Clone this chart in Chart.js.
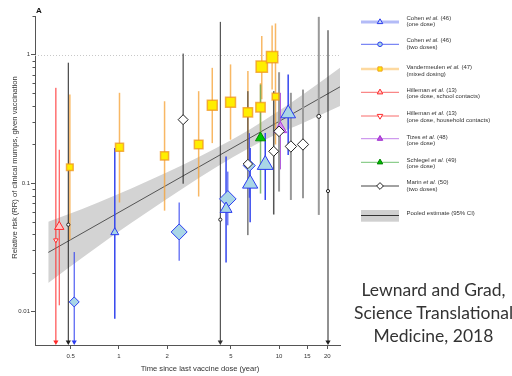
<!DOCTYPE html>
<html><head><meta charset="utf-8">
<script src="https://cdn.jsdelivr.net/npm/chart.js@4.4.1/dist/chart.umd.min.js"></script>
<style>
html,body{margin:0;padding:0;background:#fff;overflow:hidden;width:512px;height:376px;}
#wrap{position:absolute;left:0;top:0;width:512px;height:376px;}
#cite{position:absolute;left:345px;width:177px;top:277.6px;text-align:center;font-family:Lato,sans-serif;font-size:17.5px;line-height:23.3px;color:#333;white-space:nowrap;}
</style></head><body>
<div id="wrap"><canvas id="c" width="512" height="376"></canvas></div>
<div id="cite">Lewnard and Grad,<br>Science Translational<br>Medicine, 2018</div>
<script>
// ---------- data ----------
const xTickValues = [0.5, 1, 2, 5, 10, 15, 20];
const xTickLabels = ['0.5', '1', '2', '5', '10', '15', '20'];
const yTickValues = [0.01, 0.1, 1];
const yTickLabels = ['0.01', '0.1', '1'];
const yMinorTicks = [0.02,0.03,0.04,0.05,0.06,0.07,0.08,0.09,0.2,0.3,0.4,0.5,0.6,0.7,0.8,0.9,2];

// Cohen et al. (46), one dose
const cohen1X  = [0.944, 4.67, 6.6, 8.2, 11.4];
const cohen1RR = [0.0414, 0.063, 0.099, 0.139, 0.348];
const cohen1Lo = [0.0088, 0.0241, 0.0496, 0.074, 0.166];
const cohen1Hi = [0.188, 0.161, 0.188, 0.246, 0.70];
const cohen1Radius = [4.6, 6.9, 8.8, 9.2, 8.5];

// Cohen et al. (46), two doses
const cohen2X  = [0.527, 2.38, 4.79, 6.52];
const cohen2RR = [0.0119, 0.0417, 0.0754, 0.137];
const cohen2Lo = [null, 0.0249, 0.047, 0.077];
const cohen2Hi = [0.0291, 0.0707, 0.123, 0.245];
const cohen2Radius = [5, 8, 8.3, 6];

// Vandermeulen et al. (47), mixed dosing
const vdmX  = [0.495, 1.01, 1.93, 3.15, 3.83, 4.98, 6.39, 7.66, 7.8, 9.05, 9.5];
const vdmRR = [0.133, 0.19, 0.163, 0.2, 0.404, 0.426, 0.356, 0.39, 0.806, 0.957, 0.472];
const vdmLo = [0.0362, 0.0707, 0.0611, 0.0787, 0.205, 0.218, 0.13, 0.25, 0.45, 0.535, 0.2];
const vdmHi = [0.49, 0.505, 0.434, 0.52, 0.79, 0.84, 0.745, 0.6, 1.4, 1.69, 1.75];
const vdmRadius = [4.7, 5.7, 5.7, 6.1, 7, 7, 6.6, 6.6, 8, 8, 4.7];

// Hilleman et al. (13), one dose, school contacts
const hillSchoolX  = [0.425];
const hillSchoolRR = [0.0458];
const hillSchoolLo = [0.0112];
const hillSchoolHi = [0.182];

// Hilleman et al. (13), one dose, household contacts
const hillHouseX  = [0.405];
const hillHouseRR = [0.036];
const hillHouseLo = [null];
const hillHouseHi = [0.552];

// Tizes et al. (48), one dose
const tizesX  = [10.2];
const tizesRR = [0.264];
const tizesLo = [0.128];
const tizesHi = [0.505];

// Schlegel et al. (49), one dose
const schlegelX  = [7.66];
const schlegelRR = [0.225];
const schlegelLo = [0.083];
const schlegelHi = [0.586];

// Marin et al. (50), two doses
const marinX  = [0.484, 2.52, 4.3, 6.39, 9.26, 10.0, 11.85, 14.1, 17.7, 20.2];
const marinRR = [0.0475, 0.312, 0.052, 0.141, 0.177, 0.253, 0.193, 0.2, 0.331, 0.0868];
const marinLo = [null, 0.099, null, 0.0394, 0.057, 0.086, 0.074, 0.0763, 0.0566, null];
const marinHi = [0.866, 1.02, 1.8, 0.52, 0.52, 0.73, 0.505, 0.535, 1.97, 1.55];
const marinRadius = [1.6, 5, 1.6, 4.7, 5, 5.3, 5.7, 5.7, 2, 1.6];
const marinShape = ['circle','rectRot','circle','rectRot','rectRot','rectRot','rectRot','rectRot','circle','circle'];

// Pooled estimate (95% CI)
const pooledX  = [0.363, 24];
const pooledRR = [0.0289, 0.562];
const bandX     = [0.363, 0.586, 0.944, 2.52, 4.0, 6.52, 9.5, 14.1, 24];
const bandUpper = [0.0501, 0.0626, 0.0800, 0.139, 0.186, 0.261, 0.351, 0.49, 0.79];
const bandLower = [0.0167, 0.026, 0.0400, 0.0914, 0.132, 0.188, 0.238, 0.294, 0.398];

// legend text
const legendNames = ['Cohen','Cohen','Vandermeulen','Hilleman','Hilleman','Tizes','Schlegel','Marin'];
const legendRefs  = ['(46)','(46)','(47)','(13)','(13)','(48)','(49)','(50)'];
const legendNotes = ['(one dose)','(two doses)','(mixed dosing)','(one dose, school contacts)','(one dose, household contacts)','(one dose)','(one dose)','(two doses)'];
const pooledLabel = 'Pooled estimate (95% CI)';
const xTitle = 'Time since last vaccine dose (year)';
const yTitle = 'Relative risk (RR) of clinical mumps, given vaccination';
const panelLabel = 'A';

// ---------- styles ----------
const FONT = '"Liberation Sans", Arial, sans-serif';
const BLUE = '#2b3cf0';
const LIGHTBLUE = '#a9d6e6';
const errorBarSets = [
  {x: hillSchoolX, lo: hillSchoolLo, hi: hillSchoolHi, color: '#ff3a3a', width: 1},
  {x: hillHouseX, lo: hillHouseLo, hi: hillHouseHi, color: '#ff2a2a', width: 1},
  {x: vdmX, lo: vdmLo, hi: vdmHi, color: 'rgba(245,160,50,0.75)', width: 1.5},
  {x: schlegelX, lo: schlegelLo, hi: schlegelHi, color: 'rgba(100,170,90,0.8)', width: 1.5},
  {x: tizesX, lo: tizesLo, hi: tizesHi, color: '#b050e0', width: 1},
  {x: marinX, lo: marinLo, hi: marinHi,
   color: ['#222','#222','#333','#333','#555','#999','#999','#999','#999','#222'],
   width: [1,1,1,1,1.5,2,2,2,2,1]},
  {x: cohen2X, lo: cohen2Lo, hi: cohen2Hi, color: BLUE, width: 1},
  {x: cohen1X, lo: cohen1Lo, hi: cohen1Hi, color: '#3446ee', width: 1.5}
];

const legendStyles = [
  {lineColor:'#b3bbf7', lineWidth:3, marker:'triangle', r:3.2, fill:'#c8d8f4', stroke:BLUE},
  {lineColor:'#5a6af2', lineWidth:1, marker:'circle', r:2.3, fill:LIGHTBLUE, stroke:BLUE},
  {lineColor:'#fdd9a0', lineWidth:2.5, marker:'rect', r:3, fill:'#ffee00', stroke:'#f0a020'},
  {lineColor:'#f86a6a', lineWidth:1, marker:'triangle', r:3.2, fill:'#ffd0d0', stroke:'#ff2a2a'},
  {lineColor:'#f86a6a', lineWidth:1, marker:'triangleDown', r:3.2, fill:'#ffffff', stroke:'#ff2a2a'},
  {lineColor:'#c383ea', lineWidth:1, marker:'triangle', r:3.2, fill:'#c050e0', stroke:'#a030d0'},
  {lineColor:'#72c272', lineWidth:1, marker:'triangle', r:3.2, fill:'#00c000', stroke:'#008000'},
  {lineColor:'#444', lineWidth:1, marker:'rectRot', r:3.4, fill:'#ffffff', stroke:'#222'}
];
const legendLineY = [22, 44.3, 69, 92.3, 116, 138.7, 162.3, 186];
const legendText1Y = [18.4, 40.7, 67.6, 90, 113.8, 137.3, 160, 182.7];

function pts(X, Y){ return X.map((x,i)=>({x:x, y:Y[i]})); }

function drawMarker(ctx, shape, x, y, r, fill, stroke, lw){
  ctx.beginPath();
  if (shape==='triangle'){ ctx.moveTo(x,y-r); ctx.lineTo(x+r*0.866,y+r/2); ctx.lineTo(x-r*0.866,y+r/2); ctx.closePath(); }
  else if (shape==='triangleDown'){ ctx.moveTo(x,y+r); ctx.lineTo(x+r*0.866,y-r/2); ctx.lineTo(x-r*0.866,y-r/2); ctx.closePath(); }
  else if (shape==='rect'){ const h=r*0.707; ctx.rect(x-h,y-h,2*h,2*h); }
  else if (shape==='rectRot'){ ctx.moveTo(x-r,y); ctx.lineTo(x,y-r); ctx.lineTo(x+r,y); ctx.lineTo(x,y+r); ctx.closePath(); }
  else { ctx.arc(x,y,r,0,Math.PI*2); }
  ctx.fillStyle = fill; ctx.fill();
  ctx.lineWidth = lw || 1; ctx.strokeStyle = stroke; ctx.stroke();
}

function drawErrorBars(chart){
  const ctx = chart.ctx, xs = chart.scales.x, ys = chart.scales.y, area = chart.chartArea;
  ctx.save();
  errorBarSets.forEach(set => {
    set.x.forEach((xv,i) => {
      const px = xs.getPixelForValue(xv);
      const top = ys.getPixelForValue(set.hi[i]);
      const open = set.lo[i] == null;
      const bottom = open ? area.bottom - 2 : ys.getPixelForValue(set.lo[i]);
      const col = Array.isArray(set.color) ? set.color[i] : set.color;
      const w = Array.isArray(set.width) ? set.width[i] : set.width;
      ctx.strokeStyle = col; ctx.lineWidth = w;
      ctx.beginPath(); ctx.moveTo(px, top); ctx.lineTo(px, bottom); ctx.stroke();
      if (open){
        ctx.fillStyle = col;
        ctx.beginPath(); ctx.moveTo(px, area.bottom); ctx.lineTo(px-2.6, area.bottom-4.5); ctx.lineTo(px+2.6, area.bottom-4.5); ctx.closePath(); ctx.fill();
      }
    });
  });
  ctx.restore();
}

const overlay = {
  id: 'overlay',
  beforeDatasetsDraw(chart){
    const ctx = chart.ctx, ys = chart.scales.y, a = chart.chartArea;
    const y1 = Math.round(ys.getPixelForValue(1)) + 0.5;
    ctx.save();
    ctx.strokeStyle = '#c8c8c8'; ctx.lineWidth = 1; ctx.setLineDash([1,2]);
    ctx.beginPath(); ctx.moveTo(a.left, y1); ctx.lineTo(a.right, y1); ctx.stroke();
    ctx.restore();
  },
  afterDatasetDraw(chart, args){
    if (chart.data.datasets[args.index].label === 'Pooled estimate') drawErrorBars(chart);
  },
  afterDraw(chart){
    const ctx = chart.ctx, ys = chart.scales.y, a = chart.chartArea;
    ctx.save();
    // minor y ticks
    ctx.strokeStyle = '#555'; ctx.lineWidth = 1;
    yMinorTicks.forEach(v => {
      const y = Math.round(ys.getPixelForValue(v)) + 0.5;
      ctx.beginPath(); ctx.moveTo(a.left - 2.5, y); ctx.lineTo(a.left, y); ctx.stroke();
    });
    // axis titles
    ctx.fillStyle = '#333';
    ctx.font = '7.6px ' + FONT;
    ctx.textAlign = 'center'; ctx.textBaseline = 'middle';
    ctx.fillText(xTitle, 200, 369);
    ctx.save();
    ctx.translate(14.5, 167.5); ctx.rotate(-Math.PI/2);
    ctx.fillText(yTitle, 0, 0);
    ctx.restore();
    // panel label
    ctx.font = 'bold 8px ' + FONT;
    ctx.textAlign = 'left'; ctx.fillStyle = '#111';
    ctx.fillText(panelLabel, 36, 11);
    // legend
    const lx0 = 361, lx1 = 399, mx = 380, tx = 406.5;
    legendStyles.forEach((s,i) => {
      const ly = legendLineY[i];
      ctx.strokeStyle = s.lineColor; ctx.lineWidth = s.lineWidth;
      ctx.beginPath(); ctx.moveTo(lx0, ly); ctx.lineTo(lx1, ly); ctx.stroke();
      drawMarker(ctx, s.marker, mx, ly, s.r, s.fill, s.stroke, 1);
      const t1 = legendText1Y[i];
      ctx.fillStyle = '#333'; ctx.textAlign = 'left'; ctx.textBaseline = 'middle';
      let x = tx;
      ctx.font = '6px ' + FONT;
      const p1 = legendNames[i] + ' ';
      ctx.fillText(p1, x, t1); x += ctx.measureText(p1).width;
      ctx.font = 'italic 6px ' + FONT;
      const p2 = 'et al.';
      ctx.fillText(p2, x, t1); x += ctx.measureText(p2).width;
      ctx.font = '6px ' + FONT;
      ctx.fillText(' ' + legendRefs[i], x, t1);
      ctx.fillText(legendNotes[i], tx, t1 + 6.3);
    });
    // pooled
    ctx.fillStyle = '#d0d0d0';
    ctx.fillRect(lx0, 210, lx1 - lx0, 11.7);
    ctx.strokeStyle = '#333'; ctx.lineWidth = 1;
    ctx.beginPath(); ctx.moveTo(lx0, 215.5); ctx.lineTo(lx1, 215.5); ctx.stroke();
    ctx.fillStyle = '#333'; ctx.font = '6px ' + FONT;
    ctx.fillText(pooledLabel, tx, 213.5);
    ctx.restore();
  }
};

const sc = (label, X, Y, order, opts) => Object.assign({
  label: label, type: 'scatter', data: pts(X, Y), order: order, clip: false,
  pointBorderWidth: 1, pointHoverBorderWidth: 1
}, opts);

const datasets = [
  {label: 'CI upper', type: 'line', data: pts(bandX, bandUpper), order: 30, pointRadius: 0, borderWidth: 0,
   borderColor: 'rgba(0,0,0,0)', backgroundColor: '#d3d3d3', fill: '+1', cubicInterpolationMode: 'monotone'},
  {label: 'CI lower', type: 'line', data: pts(bandX, bandLower), order: 31, pointRadius: 0, borderWidth: 0,
   borderColor: 'rgba(0,0,0,0)', backgroundColor: '#d3d3d3', fill: false, cubicInterpolationMode: 'monotone'},
  {label: 'Pooled estimate', type: 'line', data: pts(pooledX, pooledRR), order: 20, pointRadius: 0,
   borderWidth: 0.8, borderColor: '#333', fill: false},
  sc('Vandermeulen', vdmX, vdmRR, 9, {pointStyle: 'rect', pointRadius: vdmRadius, pointHoverRadius: vdmRadius,
     pointBackgroundColor: '#ffee00', pointBorderColor: 'rgba(240,150,30,0.75)', pointBorderWidth: 1.5}),
  sc('Cohen two', cohen2X, cohen2RR, 8, {pointStyle: 'rectRot', pointRadius: cohen2Radius, pointHoverRadius: cohen2Radius,
     pointBackgroundColor: LIGHTBLUE, pointBorderColor: BLUE}),
  sc('Cohen one', cohen1X, cohen1RR, 7, {pointStyle: 'triangle', pointRadius: cohen1Radius, pointHoverRadius: cohen1Radius,
     pointBackgroundColor: LIGHTBLUE, pointBorderColor: BLUE}),
  sc('Hilleman school', hillSchoolX, hillSchoolRR, 6, {pointStyle: 'triangle', pointRadius: 5.4, pointHoverRadius: 5.4,
     pointBackgroundColor: '#ffc4c4', pointBorderColor: '#ff2a2a'}),
  sc('Hilleman household', hillHouseX, hillHouseRR, 5, {pointStyle: 'triangle', pointRotation: 180, pointRadius: 2.6, pointHoverRadius: 2.6,
     pointBackgroundColor: '#ffffff', pointBorderColor: '#ff2a2a'}),
  sc('Schlegel', schlegelX, schlegelRR, 4, {pointStyle: 'triangle', pointRadius: 5.8, pointHoverRadius: 5.8,
     pointBackgroundColor: '#00c800', pointBorderColor: '#008a00'}),
  sc('Tizes', tizesX, tizesRR, 3, {pointStyle: 'triangle', pointRadius: 7.3, pointHoverRadius: 7.3,
     pointBackgroundColor: '#d690ee', pointBorderColor: '#b040e0'}),
  sc('Marin', marinX, marinRR, 2, {pointStyle: marinShape, pointRadius: marinRadius, pointHoverRadius: marinRadius,
     pointBackgroundColor: '#ffffff', pointBorderColor: '#222'})
];

new Chart(document.getElementById('c'), {
  type: 'scatter',
  data: {datasets: datasets},
  options: {
    responsive: false, animation: false, events: [],
    devicePixelRatio: 1,
    layout: {padding: {left: 0, top: 16, right: 172, bottom: 0}},
    plugins: {legend: {display: false}, tooltip: {enabled: false}},
    scales: {
      x: {
        type: 'logarithmic', position: 'bottom', min: 0.31, max: 24,
        afterBuildTicks: s => { s.ticks = xTickValues.map(v => ({value: v})); },
        afterFit: s => { s.height = 31; },
        ticks: {autoSkip: false, maxRotation: 0, minRotation: 0, padding: 4, color: '#333',
                font: {family: FONT, size: 6}, callback: (v, i) => xTickLabels[i]},
        grid: {drawOnChartArea: false, drawTicks: true, tickLength: 4, color: '#555'},
        border: {display: true, color: '#555', width: 1}
      },
      y: {
        type: 'logarithmic', position: 'left', min: 0.0055, max: 2,
        afterBuildTicks: s => { s.ticks = yTickValues.map(v => ({value: v})); },
        afterFit: s => { s.width = 35; },
        ticks: {autoSkip: false, padding: 1, color: '#333',
                font: {family: FONT, size: 6}, callback: (v, i) => yTickLabels[i]},
        grid: {drawOnChartArea: false, drawTicks: true, tickLength: 4, color: '#555'},
        border: {display: true, color: '#555', width: 1}
      }
    }
  },
  plugins: [overlay]
});
</script>
</body></html>
